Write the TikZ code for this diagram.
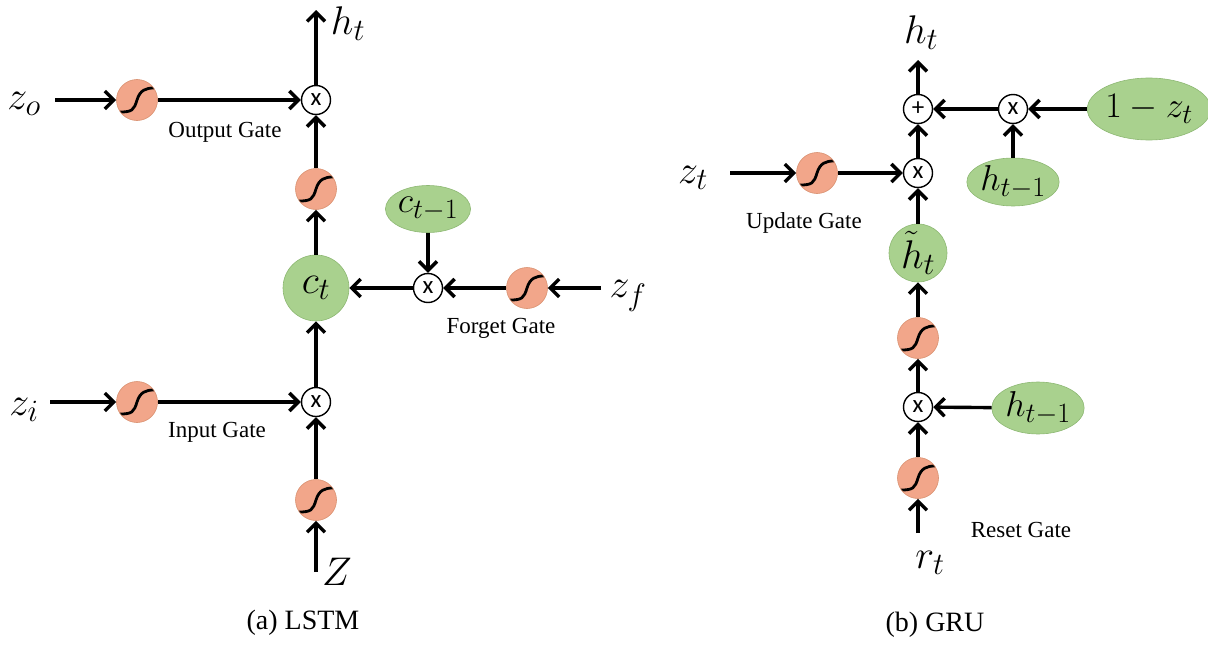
\RequirePackage{fix-cm}
\documentclass[tikz,border=0pt]{standalone}
\usepackage{fontspec}
\setmainfont{Liberation Serif}
\newfontfamily\opfont{Carlito}
\DeclareMathSizes{40}{40}{31}{24}
\DeclareMathSizes{36}{36}{28}{22}
\usetikzlibrary{arrows.meta,shapes.geometric}
\definecolor{sigfill}{HTML}{F2A68A}
\definecolor{sigedge}{HTML}{D9906F}
\definecolor{gfill}{HTML}{A9D18E}
\definecolor{gedge}{HTML}{8DB873}
\begin{document}
\begin{tikzpicture}[x=1pt,y=-1pt,
 conn/.style={line width=3.4pt, -{Straight Barb[length=9pt,width=18pt]}},
 sigm/.style={circle, inner sep=0, minimum size=41pt, fill=sigfill, draw=sigedge, line width=0.6pt,
   path picture={\draw[draw=black, line width=2.8pt, line cap=round]
     ([shift={(-17pt,-12pt)}]path picture bounding box.center) .. controls +(12pt,0pt) and +(-3pt,-10pt) ..
     (path picture bounding box.center) .. controls +(3pt,10pt) and +(-8pt,0pt) ..
     ([shift={(17pt,12pt)}]path picture bounding box.center);}},
 op/.style={circle, inner sep=0, minimum size=29pt, draw=black, line width=1.4pt, fill=white, font=\opfont\fontsize{25}{25}\selectfont},
 gcirc/.style={circle, inner sep=0, fill=gfill, draw=gedge, line width=0.6pt, font=\fontsize{40}{44}\selectfont},
 gell/.style={ellipse, inner sep=0, fill=gfill, draw=gedge, line width=0.6pt, font=\fontsize{36}{40}\selectfont},
 lab/.style={font=\fontsize{40}{44}\selectfont, inner sep=0},
 gate/.style={font=\fontsize{23}{26}\selectfont, inner sep=0},
 captext/.style={font=\fontsize{28}{32}\selectfont, inner sep=0},
]
\useasboundingbox (0,0) rectangle (1208,645);
% ---------------- LSTM ----------------
\node[lab] (ht1) at (348,24) {$h_t$};
\coordinate (top1) at (316,10);
\node[op] (xo) at (316,100) {x};
\node[sigm] (so) at (137,100) {};
\coordinate (zoin) at (55,100);
\node[lab] (zo) at (24,104) {$z_o$};
\node[gate] (og) at (225,132) {Output Gate};
\node[sigm] (sc) at (316,189) {};
\node[gcirc, minimum size=66pt] (ct) at (316,288) {$c_t$};
\node[gell, minimum width=82pt, minimum height=47pt] (ctm) at (428,209) {$c_{t-1}$};
\node[op] (xf) at (428,288) {x};
\node[sigm] (sf) at (527,288) {};
\coordinate (zfin) at (601,288);
\node[lab] (zf) at (628,296) {$z_f$};
\node[gate] (fg) at (501,328) {Forget Gate};
\node[op] (xi) at (316,402) {x};
\node[sigm] (si) at (137,402) {};
\coordinate (ziin) at (50,402);
\node[lab] (zi) at (24,410) {$z_i$};
\node[gate] (ig) at (217,432) {Input Gate};
\node[sigm] (sz) at (316,500) {};
\coordinate (zin) at (316,572);
\node[lab] (Z) at (337,572) {$Z$};
\node[captext] (capa) at (303,623) {(a) LSTM};
\draw[conn] (xo) -- (top1);
\draw[conn] (zoin) -- (so);
\draw[conn] (so) -- (xo);
\draw[conn] (sc) -- (xo);
\draw[conn] (ct) -- (sc);
\draw[conn] (xf) -- (ct);
\draw[conn] (ctm) -- (xf);
\draw[conn] (sf) -- (xf);
\draw[conn] (zfin) -- (sf);
\draw[conn] (xi) -- (ct);
\draw[conn] (ziin) -- (si);
\draw[conn] (si) -- (xi);
\draw[conn] (sz) -- (xi);
\draw[conn] (zin) -- (sz);
% ---------------- GRU ----------------
\node[lab] (ht2) at (921,33) {$h_t$};
\coordinate (top2) at (918,60);
\node[op] (plus) at (918,109) {+};
\node[op] (xr) at (1013,109) {x};
\node[gell, minimum width=112pt, minimum height=62pt] (omz) at (1149,109) {$1-z_t$};
\node[gell, minimum width=86pt, minimum height=48pt] (hm1) at (1013,182) {$h_{t-1}$};
\node[op] (xu) at (918,173) {x};
\node[sigm] (su) at (817,173) {};
\coordinate (ztin) at (730,173);
\node[lab] (zt) at (693,178) {$z_t$};
\node[gate] (ug) at (804,223) {Update Gate};
\node[gcirc, minimum size=58pt] (htil) at (918,253) {$\tilde{h}_t$};
\node[sigm] (sh) at (918,338) {};
\node[op] (xrs) at (918,407) {x};
\node[gell, minimum width=87pt, minimum height=52pt] (hm2) at (1038,408) {$h_{t-1}$};
\node[sigm] (sr) at (918,478) {};
\coordinate (rtin) at (918,533);
\node[lab] (rt) at (930,563) {$r_t$};
\node[gate] (rg) at (1021,530) {Reset Gate};
\node[captext] (capb) at (935,625) {(b) GRU};
\draw[conn] (plus) -- (top2);
\draw[conn] (xr) -- (plus);
\draw[conn] (omz) -- (xr);
\draw[conn] (hm1) -- (xr);
\draw[conn] (xu) -- (plus);
\draw[conn] (ztin) -- (su);
\draw[conn] (su) -- (xu);
\draw[conn] (htil) -- (xu);
\draw[conn] (sh) -- (htil);
\draw[conn] (xrs) -- (sh);
\draw[conn] (hm2) -- (xrs);
\draw[conn] (sr) -- (xrs);
\draw[conn] (rtin) -- (sr);
\end{tikzpicture}
\end{document}
